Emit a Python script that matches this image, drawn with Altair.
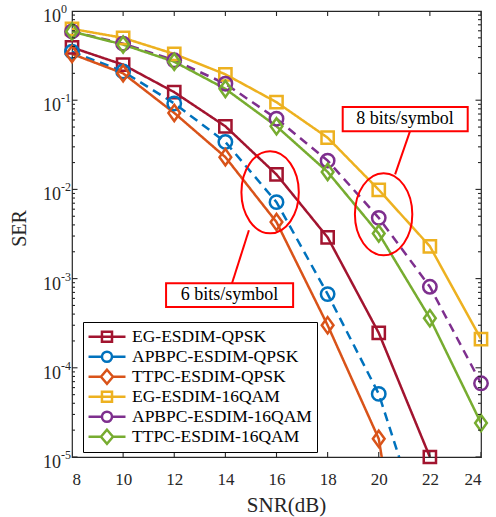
import altair as alt
import pandas as pd

# ---------------- data ----------------
snr = [8, 10, 12, 14, 16, 18, 20, 22, 24]
series_names = ["EG-ESDIM-QPSK", "APBPC-ESDIM-QPSK", "TTPC-ESDIM-QPSK",
                "EG-ESDIM-16QAM", "APBPC-ESDIM-16QAM", "TTPC-ESDIM-16QAM"]
eg_qpsk = [0.39, 0.25, 0.123, 0.051, 0.0147, 0.0029, 0.000246, 1.0e-5]
apbpc_qpsk = [0.35, 0.21, 0.092, 0.034, 0.0072, 0.00067, 5.1e-5, 8.5e-7]
ttpc_qpsk = [0.33, 0.20, 0.072, 0.023, 0.0043, 0.0003, 1.6e-5, 5e-9]
eg_16qam = [0.63, 0.50, 0.33, 0.195, 0.095, 0.038, 0.0099, 0.0023, 0.00021]
apbpc_16qam = [0.59, 0.43, 0.28, 0.153, 0.062, 0.021, 0.0048, 0.00081, 6.7e-5]
ttpc_16qam = [0.59, 0.42, 0.27, 0.134, 0.051, 0.0157, 0.0032, 0.00036, 2.4e-5]
all_series = [eg_qpsk, apbpc_qpsk, ttpc_qpsk, eg_16qam, apbpc_16qam, ttpc_16qam]

colors = ["#A2142F", "#0072BD", "#D95319", "#EDB120", "#7E2F8E", "#77AC30"]
markers = ["square", "circle", "diamond", "square", "circle", "diamond"]
dash_style = ["solid", "dashed", "solid", "solid", "dashed", "solid"]

y_major = [1, 0.1, 0.01, 0.001, 1e-4, 1e-5]
y_exp = ["0", "-1", "-2", "-3", "-4", "-5"]
y_minor = [m * 10.0 ** k for k in range(-5, 0) for m in range(2, 10)]

# annotations
ell_x = [15.75, 20.19]
ell_y = [0.00927, 0.00526]
box_x = [11.68, 18.59]
box_x2 = [16.65, 23.48]
box_y = [8.87e-4, 0.0837]
box_y2 = [4.8e-4, 0.0448]
lab_x = [14.16, 21.03]
lab_y = [6.5e-4, 0.0612]
lab_text = ["6 bits/symbol", "8 bits/symbol"]
con_x = [14.92, 21.22]
con_y = [0.00348, 0.0448]
con_x2 = [14.26, 20.64]
con_y2 = [8.87e-4, 0.01476]

# ---------------- tables ----------------
rows = []
for name, vals, mk, ds, c in zip(series_names, all_series, markers, dash_style, colors):
    for x, v in zip(snr, vals):
        rows.append({"series": name, "snr": x, "ser": v, "marker": mk, "dash": ds, "hex": c})
df = pd.DataFrame(rows)

ytick_df = pd.DataFrame({"v": y_major + y_minor,
                         "major": [True] * len(y_major) + [False] * len(y_minor)})
xtick_df = pd.DataFrame({"v": snr})
ylab_df = pd.DataFrame({"v": y_major, "e": y_exp})
ell_df = pd.DataFrame({"x": ell_x, "y": ell_y})
box_df = pd.DataFrame({"x": box_x, "x2": box_x2, "y": box_y, "y2": box_y2})
lab_df = pd.DataFrame({"x": lab_x, "y": lab_y, "t": lab_text})
con_df = pd.DataFrame({"x": con_x, "y": con_y, "x2": con_x2, "y2": con_y2})

# ---------------- chart ----------------
FONT = "Liberation Serif, Times New Roman, serif"
TXT = "#262626"
W, H = 409, 446
xs = alt.Scale(domain=[8, 24], nice=False, zero=False)
ys = alt.Scale(type="log", domain=[1e-5, 1], nice=False)
col = alt.Scale(domain=series_names, range=colors)

x_axis = alt.Axis(
    values=snr, ticks=False, domain=False, grid=False, labelFont=FONT,
    labelFontSize=17, labelColor=TXT, labelPadding=14,
    title="SNR(dB)", titleFont=FONT, titleFontSize=21, titleFontWeight="normal",
    titleColor=TXT, titleX=214, titleY=37, titleBaseline="top")
y_axis = alt.Axis(
    labels=False, ticks=False, domain=False, grid=False,
    title="SER", titleFont=FONT, titleFontSize=20, titleFontWeight="normal",
    titleColor=TXT, titleX=-47, titleY=217, titleAngle=-90,
    titleBaseline="alphabetic", titleAlign="center")

def X(field):
    return alt.X(field, type="quantitative", scale=xs, axis=x_axis)

def Y(field):
    return alt.Y(field, type="quantitative", scale=ys, axis=y_axis)

# legend glyphs (line + marker), in units of half the symbol size
sq = "M-1.13,0H3.8M0.66,-0.67H2V0.67H0.66Z"
ci = ("M-1.13,0H0.66M2,0H3.8M0.66,0A0.67,0.67,0,1,1,2,0"
      "A0.67,0.67,0,1,1,0.66,0Z")
di = "M-1.13,0H0.53M2.13,0H3.8M1.33,-0.93L2.13,0L1.33,0.93L0.53,0Z"
legend_paths = [sq, ci, di, sq, ci, di]
diamond_path = "M0,-1.25L0.9,0L0,1.25L-0.9,0Z"
ellipse_path = "M0.7,0A0.7,1,0,1,1,-0.7,0A0.7,1,0,1,1,0.7,0Z"

lines = alt.Chart(df).mark_line(clip=True, strokeWidth=2.5).encode(
    x=X("snr"), y=Y("ser"),
    color=alt.Color("hex:N", scale=None),
    strokeDash=alt.StrokeDash("dash:N", scale=alt.Scale(domain=["solid", "dashed"],
                                                       range=[[1, 0], [9, 6]]), legend=None),
    detail="series:N",
)

def point_layer(mk, shape, size):
    return alt.Chart(df).transform_filter(
        (alt.datum.marker == mk) & (alt.datum.ser >= 9.9e-6)
    ).mark_point(shape=shape, size=size, filled=False, strokeWidth=2.5, opacity=1).encode(
        x=X("snr"), y=Y("ser"),
        color=alt.Color("hex:N", scale=None),
    )

pts_sq = point_layer("square", "square", 150)
pts_ci = point_layer("circle", "circle", 180)
pts_di = point_layer("diamond", diamond_path, 169)

leg_props = dict(title=None, orient="none", legendX=11, legendY=311, padding=5,
                 strokeColor="black", fillColor="white", labelFont=FONT,
                 labelFontSize=17.5, labelColor="black", labelOffset=26,
                 labelLimit=400, rowPadding=0, symbolSize=225, clipHeight=19.5,
                 symbolStrokeWidth=2.5, symbolOpacity=1)
legend_layer = alt.Chart(df).mark_point(clip=True, filled=False, strokeWidth=2.5,
                                         opacity=1).encode(
    x=alt.value(-500), y=alt.value(-500),
    color=alt.Color("series:N", scale=col, legend=alt.Legend(**leg_props)),
    shape=alt.Shape("series:N", scale=alt.Scale(domain=series_names, range=legend_paths),
                    legend=alt.Legend(**leg_props)),
)

ellipses = alt.Chart(ell_df).mark_point(shape=ellipse_path, size=6724, filled=False,
                                        stroke="#FF0000", strokeWidth=2, opacity=1).encode(
    x=X("x"), y=Y("y"))
connectors = alt.Chart(con_df).mark_rule(color="#FF0000", strokeWidth=2).encode(
    x=X("x"), y=Y("y"), x2="x2:Q", y2="y2:Q")
boxes = alt.Chart(box_df).mark_rect(fill="white", stroke="#FF0000", strokeWidth=2).encode(
    x=X("x"), y=Y("y"), x2="x2:Q", y2="y2:Q")
box_text = alt.Chart(lab_df).mark_text(font=FONT, fontSize=18, color="black",
                                       align="center", baseline="middle").encode(
    x=X("x"), y=Y("y"), text="t:N")

def ytick(side, major):
    return alt.Chart(ytick_df).transform_filter(
        alt.datum.major == major
    ).mark_tick(orient="horizontal", size=11 if major else 6, thickness=1.1,
                color=TXT, clip=True, opacity=1).encode(
        y=Y("v"), x=alt.value(side))

def xtick(side):
    return alt.Chart(xtick_df).mark_tick(orient="vertical", size=10, thickness=1.1,
                                         color=TXT, clip=True, opacity=1).encode(
        x=X("v"), y=alt.value(side))

ticks = [ytick(0, True), ytick(0, False), ytick("width", True), ytick("width", False),
         xtick(0), xtick("height")]

ten = alt.Chart(ylab_df).mark_text(text="10", font=FONT, fontSize=18, color=TXT,
                                   align="right", baseline="alphabetic", dy=11).encode(
    y=Y("v"), x=alt.value(-11))
sup = alt.Chart(ylab_df).mark_text(font=FONT, fontSize=12, color=TXT,
                                   align="left", baseline="alphabetic", dy=2).encode(
    y=Y("v"), x=alt.value(-11), text="e:N")

chart = alt.layer(
    lines, pts_sq, pts_ci, pts_di, ellipses, connectors, boxes, box_text,
    legend_layer, *ticks, ten, sup
).properties(
    width=W, height=H, autosize="none",
    padding={"left": 72, "top": 11, "right": 15, "bottom": 60},
    background="white",
).configure_view(stroke=TXT, strokeWidth=1.2)

chart.save("out.html", embed_options={"renderer": "svg", "actions": False})
